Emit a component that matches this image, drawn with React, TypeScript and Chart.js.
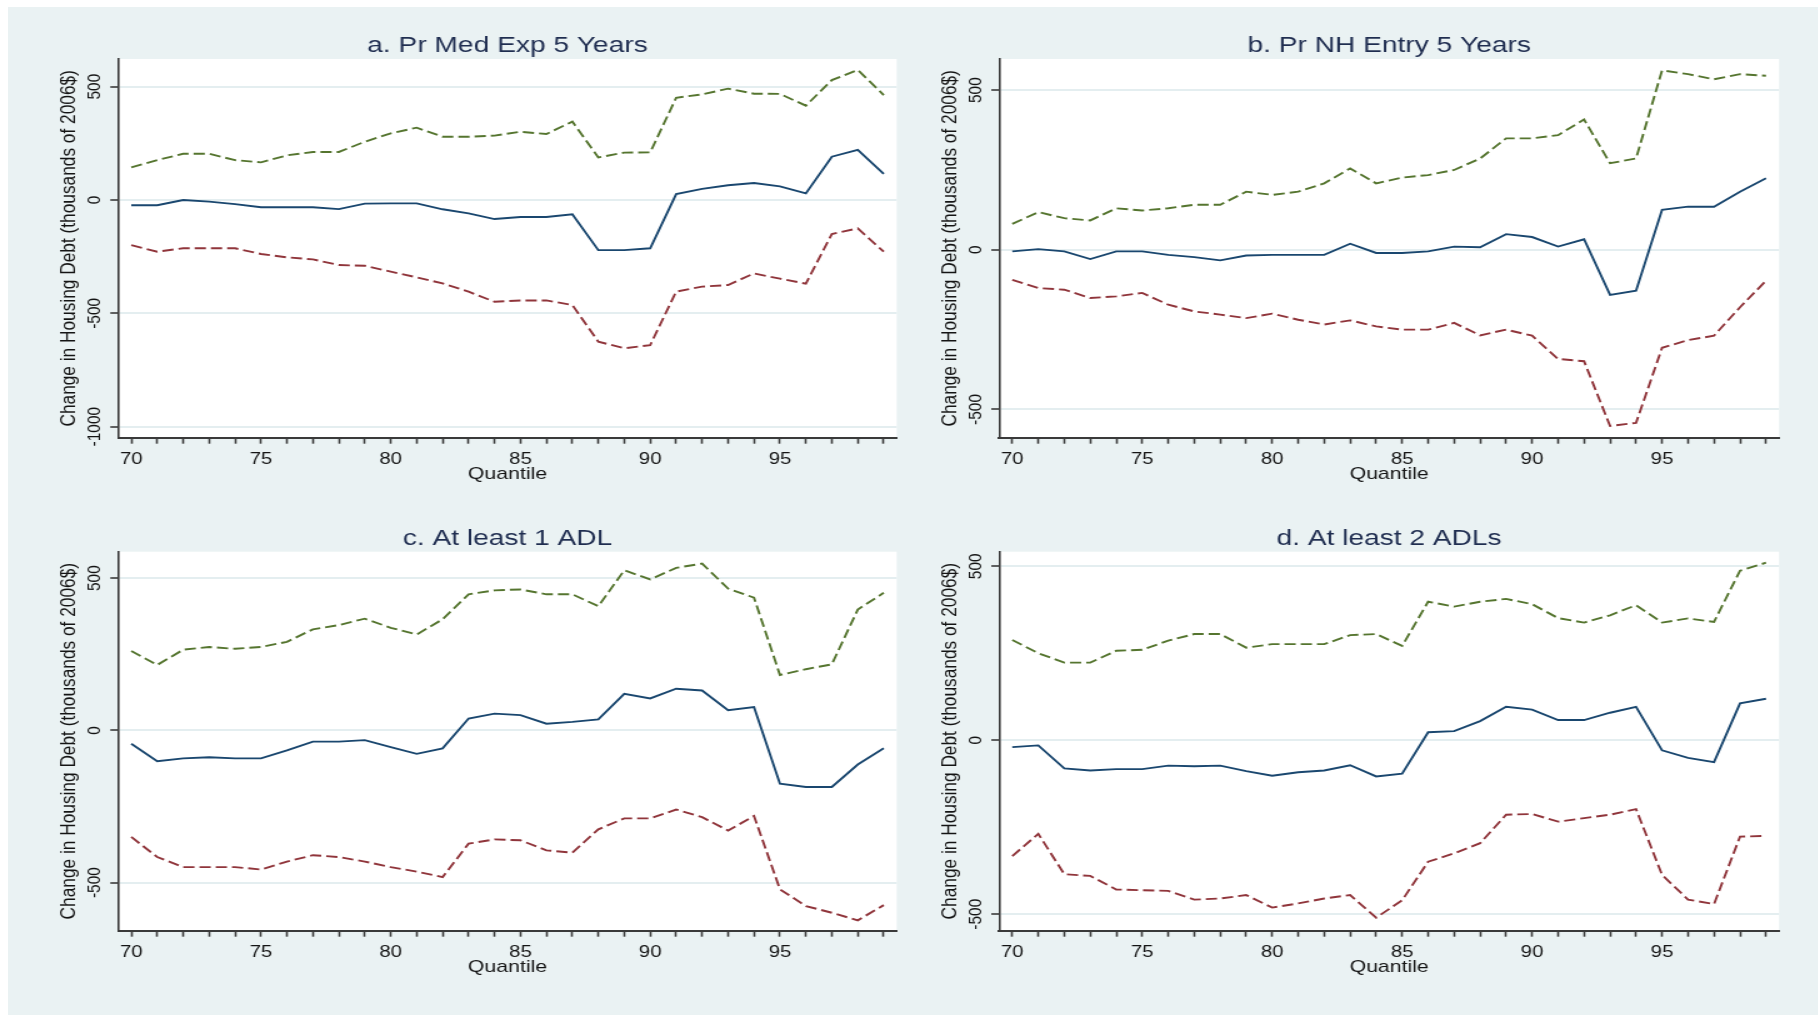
import { useEffect, useRef } from 'react';
import { Chart, registerables } from 'chart.js';

Chart.register(...registerables);

// Quantiles of the wealth distribution on the horizontal axis
const quantiles = [70, 71, 72, 73, 74, 75, 76, 77, 78, 79, 80, 81, 82, 83, 84, 85, 86, 87, 88, 89, 90, 91, 92, 93, 94, 95, 96, 97, 98, 99];
const xTickLabels = [70, 75, 80, 85, 90, 95];

// a. Pr Med Exp 5 Years
const medExpEstimate = [-23, -23, 0, -7, -18, -32, -32, -32, -40, -16, -15, -15, -41, -59, -84, -75, -75, -63, -221, -221, -213, 26, 49, 65, 75, 60, 29, 191, 221, 115];
const medExpUpper = [144, 176, 204, 204, 176, 166, 197, 212, 212, 257, 294, 319, 279, 279, 284, 301, 291, 346, 188, 209, 210, 451, 466, 491, 469, 468, 416, 529, 574, 463];
const medExpLower = [-199, -228, -213, -213, -213, -238, -253, -262, -287, -290, -316, -341, -368, -404, -449, -443, -443, -463, -625, -654, -640, -404, -382, -375, -324, -347, -369, -150, -125, -228];
const medExpTicks = [-1000, -500, 0, 500];

// b. Pr NH Entry 5 Years
const nhEntryEstimate = [-5, 2, -5, -29, -5, -5, -16, -23, -33, -18, -16, -16, -16, 19, -10, -10, -5, 10, 8, 49, 40, 10, 33, -141, -128, 125, 135, 135, 182, 224];
const nhEntryUpper = [81, 118, 99, 92, 130, 123, 130, 141, 141, 182, 172, 182, 208, 255, 208, 226, 234, 250, 286, 349, 349, 359, 408, 271, 286, 562, 550, 534, 550, 545];
const nhEntryLower = [-94, -120, -125, -151, -146, -135, -172, -193, -203, -214, -200, -219, -234, -221, -240, -250, -250, -229, -268, -250, -269, -342, -349, -552, -542, -307, -283, -269, -180, -97];
const nhEntryTicks = [-500, 0, 500];

// c. At least 1 ADL
const adl1Estimate = [-44, -101, -92, -88, -92, -92, -66, -37, -37, -32, -55, -77, -59, 39, 55, 50, 22, 28, 36, 120, 105, 137, 131, 66, 77, -175, -186, -186, -112, -59];
const adl1Upper = [261, 215, 265, 274, 268, 274, 291, 332, 346, 367, 337, 315, 365, 447, 460, 463, 447, 447, 408, 526, 496, 534, 548, 466, 436, 182, 201, 217, 397, 452];
const adl1Lower = [-350, -416, -449, -449, -449, -457, -431, -410, -416, -431, -449, -464, -482, -372, -358, -361, -394, -402, -325, -289, -289, -260, -285, -329, -281, -522, -577, -599, -624, -574];
const adl1Ticks = [-500, 0, 500];

// d. At least 2 ADLs
const adl2Estimate = [-20, -15, -81, -87, -83, -83, -73, -75, -73, -89, -102, -92, -87, -72, -104, -96, 23, 26, 55, 96, 88, 58, 58, 79, 96, -29, -51, -63, 106, 119];
const adl2Upper = [288, 250, 223, 223, 257, 260, 286, 305, 305, 266, 276, 276, 276, 302, 305, 271, 398, 384, 398, 406, 391, 351, 338, 359, 388, 338, 350, 340, 487, 510];
const adl2Lower = [-333, -269, -385, -390, -429, -431, -433, -458, -455, -445, -481, -469, -455, -445, -510, -460, -349, -325, -296, -214, -212, -234, -224, -214, -198, -387, -458, -471, -277, -275];
const adl2Ticks = [-500, 0, 500];

const Y_TITLE = 'Change in Housing Debt (thousands of 2006$)';
const X_TITLE = 'Quantile';

const FONT = "'Liberation Sans', Arial, Helvetica, sans-serif";
const NAVY = '#1a476f';
const MAROON = '#90353b';
const FOREST = '#55752f';
const AXIS = '#3a3a3a';
const GRID = '#e4eef0';
const TITLE_COLOR = '#1f2d50';
const TEXT = '#141414';

// Horizontal stretch of the drawing surface (canvas is widened by CSS)
const STRETCH = 1.25;

type Rect = { l: number; t: number; r: number; b: number };
type PanelSpec = {
  title: string;
  estimate: number[];
  upper: number[];
  lower: number[];
  yTicks: number[];
  yMin: number;
  yMax: number;
  box: Rect;
  plot: Rect;
  yTitleX: number;
};

const panels: PanelSpec[] = [
  {
    title: 'a. Pr Med Exp 5 Years',
    estimate: medExpEstimate, upper: medExpUpper, lower: medExpLower,
    yTicks: medExpTicks, yMin: -1048.5, yMax: 622,
    box: { l: 10, t: 7, r: 905, b: 500 },
    plot: { l: 118.3, t: 59, r: 896.7, b: 437.7 },
    yTitleX: 70.5,
  },
  {
    title: 'b. Pr NH Entry 5 Years',
    estimate: nhEntryEstimate, upper: nhEntryUpper, lower: nhEntryLower,
    yTicks: nhEntryTicks, yMin: -588.5, yMax: 597.5,
    box: { l: 900, t: 7, r: 1790, b: 500 },
    plot: { l: 999.3, t: 59, r: 1779, b: 437.7 },
    yTitleX: 951.5,
  },
  {
    title: 'c. At least 1 ADL',
    estimate: adl1Estimate, upper: adl1Upper, lower: adl1Lower,
    yTicks: adl1Ticks, yMin: -658, yMax: 587,
    box: { l: 10, t: 495, r: 905, b: 995 },
    plot: { l: 118.3, t: 551.7, r: 896.7, b: 930.7 },
    yTitleX: 70.5,
  },
  {
    title: 'd. At least 2 ADLs',
    estimate: adl2Estimate, upper: adl2Upper, lower: adl2Lower,
    yTicks: adl2Ticks, yMin: -547.4, yMax: 541.7,
    box: { l: 900, t: 495, r: 1790, b: 995 },
    plot: { l: 999.3, t: 551.7, r: 1779, b: 930.7 },
    yTitleX: 951.5,
  },
];

function toPoints(values: number[]) {
  return quantiles.map((q, i) => ({ x: q, y: values[i] }));
}

function PanelChart({ p }: { p: PanelSpec }) {
  const ref = useRef<HTMLCanvasElement | null>(null);
  const wFull = p.box.r - p.box.l;
  const hFull = p.box.b - p.box.t;
  const cw = Math.round(wFull / STRETCH);
  const sx = wFull / cw;

  useEffect(() => {
    const canvas = ref.current;
    if (!canvas) return;

    const yAxisWidth = (p.plot.l - p.box.l) / sx;
    const padRight = (p.box.r - p.plot.r) / sx;
    const xAxisHeight = p.box.b - p.plot.b;

    const titleSize = 22.5;
    const titleLH = titleSize * 1.2;
    const titlePadTop = p.plot.t - 13.4 - p.box.t - titleLH / 2;
    const titlePadBottom = p.plot.t - p.box.t - titlePadTop - titleLH;

    const xTitleSize = 17;
    const xTitleLH = xTitleSize * 1.2;
    const xTitlePadBottom = xAxisHeight - 36.5 - xTitleLH / 2;

    const yTitleSize = 17.3;
    const yTitleLH = yTitleSize * 1.2;
    const yTitlePadTop = (p.yTitleX - p.box.l) / sx - 1.2 - yTitleLH / 2;

    const xTickSize = 16.3;
    const xTickLH = xTickSize * 1.2;
    const xTickLen = 6;
    const xTickPad = 22.2 - xTickLen - xTickLH / 2;

    const yLabelOffset = 18.3 / sx;

    const plotBackground = {
      id: 'plotBackground',
      beforeDraw(chart: any) {
        const { ctx, chartArea } = chart;
        ctx.save();
        ctx.fillStyle = '#ffffff';
        ctx.fillRect(chartArea.left, chartArea.top, chartArea.right - chartArea.left, chartArea.bottom - chartArea.top);
        ctx.restore();
      },
    };

    // Vertical-axis values are written sideways, reading upward
    const sidewaysYLabels = {
      id: 'sidewaysYLabels',
      afterDraw(chart: any) {
        const { ctx, chartArea } = chart;
        const yScale = chart.scales.y;
        ctx.save();
        ctx.font = `15.5px ${FONT}`;
        ctx.fillStyle = TEXT;
        ctx.textAlign = 'center';
        ctx.textBaseline = 'alphabetic';
        for (const v of p.yTicks) {
          const y = yScale.getPixelForValue(v);
          ctx.save();
          ctx.translate(chartArea.left - yLabelOffset, y);
          ctx.rotate(-Math.PI / 2);
          ctx.fillText(String(v), 0, 0);
          ctx.restore();
        }
        ctx.restore();
      },
    };

    const lineStyle = { pointRadius: 0, tension: 0, fill: false, borderWidth: 1.9 };

    const chart = new Chart(canvas, {
      type: 'line',
      data: {
        datasets: [
          { ...lineStyle, data: toPoints(p.estimate), borderColor: NAVY },
          { ...lineStyle, data: toPoints(p.upper), borderColor: FOREST, borderDash: [9, 4] },
          { ...lineStyle, data: toPoints(p.lower), borderColor: MAROON, borderDash: [9, 4] },
        ],
      },
      options: {
        responsive: false,
        animation: false,
        devicePixelRatio: 1,
        layout: { padding: { left: 0, right: padRight, top: 0, bottom: 0 } },
        plugins: {
          legend: { display: false },
          tooltip: { enabled: false },
          title: {
            display: true,
            text: p.title,
            fullSize: false,
            color: TITLE_COLOR,
            font: { family: FONT, size: titleSize, lineHeight: 1.2, weight: 'normal' },
            padding: { top: titlePadTop, bottom: titlePadBottom },
          },
        },
        scales: {
          x: {
            type: 'linear',
            min: 69.5,
            max: 99.5,
            afterBuildTicks: (scale: any) => {
              scale.ticks = quantiles.map((v) => ({ value: v }));
            },
            afterFit: (scale: any) => {
              scale.height = xAxisHeight;
            },
            ticks: {
              autoSkip: false,
              maxRotation: 0,
              minRotation: 0,
              padding: xTickPad,
              color: TEXT,
              font: { family: FONT, size: xTickSize, lineHeight: 1.2 },
              callback: (v: any) => (xTickLabels.includes(Number(v)) ? String(v) : ''),
            },
            grid: {
              drawOnChartArea: false,
              drawTicks: true,
              tickLength: xTickLen,
              tickColor: AXIS,
              tickWidth: 1.6,
            },
            border: { display: true, color: AXIS, width: 2 },
            title: {
              display: true,
              text: X_TITLE,
              color: TEXT,
              font: { family: FONT, size: xTitleSize, lineHeight: 1.2 },
              padding: { top: 0, bottom: xTitlePadBottom },
            },
          },
          y: {
            type: 'linear',
            min: p.yMin,
            max: p.yMax,
            afterBuildTicks: (scale: any) => {
              scale.ticks = p.yTicks.map((v) => ({ value: v }));
            },
            afterFit: (scale: any) => {
              scale.width = yAxisWidth;
            },
            ticks: { display: false },
            grid: {
              drawOnChartArea: true,
              color: GRID,
              lineWidth: 2,
              drawTicks: true,
              tickLength: 8 / sx,
              tickColor: AXIS,
              tickWidth: 1.6,
            },
            border: { display: true, color: AXIS, width: 1.6 },
            title: {
              display: true,
              text: Y_TITLE,
              color: TEXT,
              font: { family: FONT, size: yTitleSize, lineHeight: 1.2 },
              padding: { top: yTitlePadTop, bottom: 0 },
            },
          },
        },
      },
      plugins: [plotBackground, sidewaysYLabels],
    } as any);

    return () => chart.destroy();
  }, [p, sx]);

  return (
    <canvas
      ref={ref}
      width={cw}
      height={hFull}
      style={{ position: 'absolute', left: p.box.l, top: p.box.t, width: wFull, height: hFull }}
    />
  );
}

export default function App() {
  return (
    <div style={{ position: 'absolute', left: 0, top: 0, width: 1818, height: 1015, background: '#ffffff', overflow: 'hidden' }}>
      <div style={{ position: 'absolute', left: 8, top: 7, right: 0, bottom: 0, background: '#eaf2f3' }} />
      {panels.map((p) => (
        <PanelChart key={p.title} p={p} />
      ))}
    </div>
  );
}
